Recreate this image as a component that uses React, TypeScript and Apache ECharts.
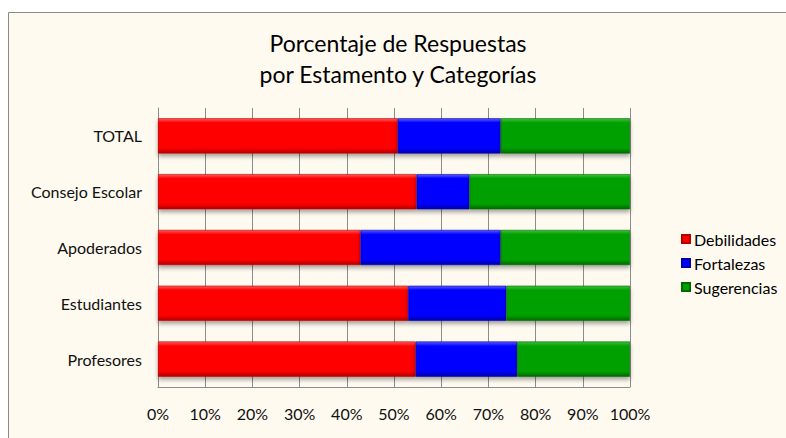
import React, { useEffect, useRef } from "react";
import * as echarts from "echarts";

const categories = ["Profesores", "Estudiantes", "Apoderados", "Consejo Escolar", "TOTAL"];
const debilidades = [54.6, 53.0, 42.9, 54.8, 50.8];
const fortalezas = [21.5, 20.8, 29.7, 11.2, 21.8];
const sugerencias = [23.9, 26.2, 27.4, 34.0, 27.4];
const xTicks = [0, 10, 20, 30, 40, 50, 60, 70, 80, 90, 100];

const FONT = "Lato";

function grad(light: string, main: string, dark: string) {
  return new echarts.graphic.LinearGradient(0, 0, 0, 1, [
    { offset: 0, color: light },
    { offset: 0.12, color: main },
    { offset: 0.85, color: main },
    { offset: 1, color: dark },
  ]);
}

export default function App() {
  const ref = useRef<HTMLDivElement>(null);
  useEffect(() => {
    if (!ref.current) return;
    const chart = echarts.init(ref.current, undefined, { renderer: "svg" });
    const mkSeries = (name: string, data: number[], light: string, main: string, dark: string) => ({
      name,
      type: "bar",
      stack: "all",
      barWidth: "63%",
      data,
      itemStyle: {
        color: grad(light, main, dark),
        borderColor: dark,
        borderWidth: 0.6,
        shadowColor: "rgba(0,0,0,0.35)",
        shadowBlur: 4,
        shadowOffsetY: 3,
      },
    });
    chart.setOption({
      animation: false,
      backgroundColor: "#ffffff",
      textStyle: { fontFamily: FONT },
      graphic: [
        {
          type: "rect",
          z: -10,
          silent: true,
          shape: { x: 8.5, y: 12.5, width: 800, height: 460 },
          style: { fill: "#FEFAF0", stroke: "#8a8a8a", lineWidth: 1 },
        },
      ],
      title: {
        text: "Porcentaje de Respuestas\npor Estamento y Categorías",
        left: 393,
        textAlign: "center",
        top: 22,
        textStyle: {
          fontFamily: FONT,
          fontSize: 23,
          fontWeight: "normal",
          color: "#000",
          lineHeight: 31,
        },
      },
      legend: {
        orient: "vertical",
        left: 676,
        top: 226,
        itemWidth: 8,
        itemHeight: 8,
        itemGap: 8,
        icon: "rect",
        textStyle: { fontFamily: FONT, fontSize: 16, color: "#000", padding: [0, 0, 0, -1] },
        data: ["Debilidades", "Fortalezas", "Sugerencias"],
      },
      grid: { left: 158, right: 156, top: 108, bottom: 51, containLabel: false },
      xAxis: {
        type: "value",
        min: xTicks[0],
        max: xTicks[xTicks.length - 1],
        interval: 10,
        axisLine: { show: true, lineStyle: { color: "#8c8c8c" } },
        axisTick: { show: false },
        splitLine: { show: true, lineStyle: { color: "#8c8c8c", width: 1 } },
        axisLabel: {
          formatter: "{value}%",
          fontFamily: FONT,
          fontSize: 16,
          color: "#111",
          margin: 18,
        },
      },
      yAxis: {
        type: "category",
        data: categories,
        axisLine: { show: true, lineStyle: { color: "#8c8c8c" } },
        axisTick: { show: false },
        axisLabel: { fontFamily: FONT, fontSize: 16, color: "#111", margin: 16 },
      },
      series: [
        mkSeries("Debilidades", debilidades, "#ff5a5a", "#ff0000", "#b30000"),
        mkSeries("Fortalezas", fortalezas, "#5a5aff", "#0000ff", "#0000a8"),
        mkSeries("Sugerencias", sugerencias, "#40c040", "#00a000", "#006a00"),
      ],
    });
    return () => chart.dispose();
  }, []);
  return (
    <div
      ref={ref}
      style={{ position: "absolute", left: 0, top: 0, width: 786, height: 438 }}
    />
  );
}
